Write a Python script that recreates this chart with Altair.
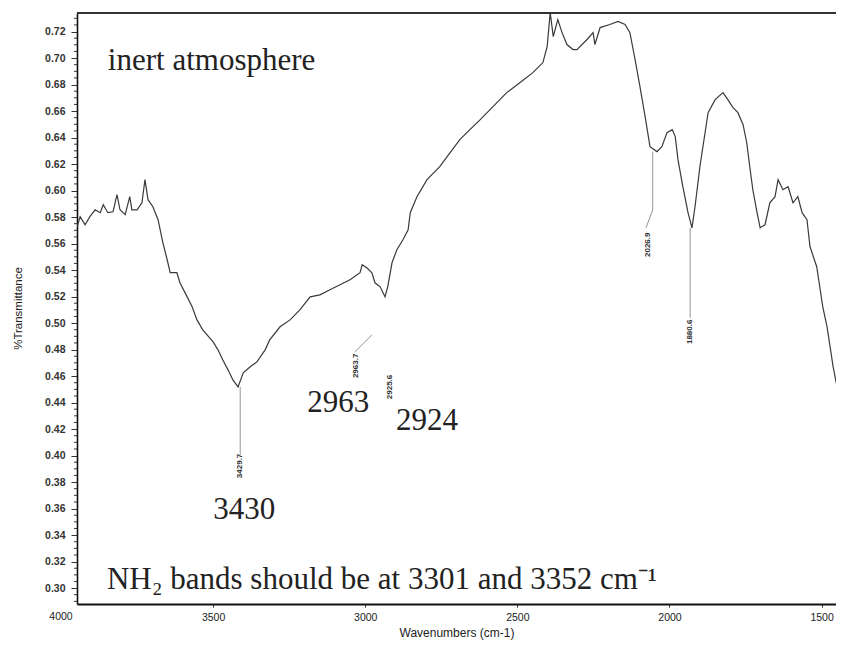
import altair as alt
import pandas as pd

# ---- spectrum ----
wavenumber = [3947, 3937, 3921, 3905, 3888, 3871, 3861, 3846, 3829, 3816, 3806, 3789, 3774, 3767,
              3750, 3734, 3724, 3714, 3698, 3681, 3665, 3651, 3641, 3619, 3609, 3592, 3569, 3553,
              3534, 3500, 3484, 3468, 3451, 3435, 3418, 3401, 3379, 3356, 3329, 3314, 3280, 3247,
              3215, 3181, 3149, 3116, 3083, 3050, 3017, 3010, 2995, 2978, 2968, 2951, 2935, 2926,
              2912, 2896, 2876, 2859, 2852, 2830, 2797, 2755, 2721, 2689, 2656, 2622, 2580, 2535,
              2491, 2449, 2416, 2402, 2392, 2382, 2367, 2353, 2337, 2317, 2304, 2271, 2251, 2245,
              2228, 2196, 2169, 2146, 2130, 2113, 2097, 2080, 2064, 2041, 2025, 2008, 1991, 1981,
              1972, 1956, 1939, 1926, 1916, 1900, 1873, 1850, 1824, 1808, 1791, 1775, 1758, 1746,
              1736, 1726, 1712, 1702, 1686, 1670, 1653, 1643, 1627, 1610, 1594, 1578, 1564, 1548,
              1538, 1516, 1506, 1496, 1482, 1472, 1462, 1449, 1430]
transmittance = [0.5727, 0.5803, 0.5742, 0.5803, 0.5855, 0.5833, 0.5893, 0.5833, 0.5840, 0.5969,
                 0.5855, 0.5818, 0.5954, 0.5855, 0.5855, 0.5908, 0.6082, 0.5931, 0.5878, 0.5780,
                 0.5606, 0.5478, 0.5380, 0.5380, 0.5304, 0.5228, 0.5123, 0.5024, 0.4949, 0.4858,
                 0.4798, 0.4722, 0.4647, 0.4571, 0.4518, 0.4624, 0.4669, 0.4707, 0.4798, 0.4873,
                 0.4972, 0.5024, 0.5100, 0.5198, 0.5213, 0.5251, 0.5289, 0.5327, 0.5380, 0.5440,
                 0.5417, 0.5380, 0.5304, 0.5274, 0.5198, 0.5274, 0.5455, 0.5553, 0.5629, 0.5704,
                 0.5833, 0.5954, 0.6082, 0.6180, 0.6286, 0.6384, 0.6460, 0.6535, 0.6633, 0.6739,
                 0.6815, 0.6890, 0.6966, 0.7087, 0.7344, 0.7162, 0.7291, 0.7192, 0.7102, 0.7064,
                 0.7064, 0.7140, 0.7192, 0.7102, 0.7230, 0.7253, 0.7276, 0.7253, 0.7192, 0.6988,
                 0.6785, 0.6558, 0.6331, 0.6294, 0.6331, 0.6437, 0.6460, 0.6407, 0.6233, 0.6029,
                 0.5833, 0.5719, 0.5878, 0.6180, 0.6588, 0.6686, 0.6739, 0.6686, 0.6626, 0.6588,
                 0.6497, 0.6361, 0.6180, 0.6006, 0.5833, 0.5719, 0.5742, 0.5908, 0.5954, 0.6082,
                 0.6006, 0.6029, 0.5908, 0.5954, 0.5833, 0.5780, 0.5576, 0.5425, 0.5274, 0.5123,
                 0.4972, 0.4820, 0.4669, 0.4518, 0.3969]

# ---- peak-pick labels (small, rotated) ----
peak_label_text = ["3429.7", "2963.7", "2925.6", "2026.9", "1880.6"]
peak_label_wn = [3411, 3030, 2919, 2070, 1932]
peak_label_t = [0.3922, 0.4677, 0.4518, 0.5591, 0.4934]

# leader lines from the peaks to their labels
leader_wn = [3411, 2055, 2055, 1932, 2978]
leader_wn2 = [3411, 2055, 2077, 1932, 3034]
leader_t = [0.4518, 0.6294, 0.5855, 0.5719, 0.4911]
leader_t2 = [0.4005, 0.5855, 0.5719, 0.5040, 0.4783]

# ---- large hand annotations ----
big_text = ["3430", "2963", "2924"]
big_wn = [3398, 3089, 2797]
big_t = [0.3522, 0.4330, 0.4193]

note_text = ["inert atmosphere", "NH\u2082 bands should be at 3301 and 3352 cm\u207b\u00b9"]
note_wn = [3846, 3849]
note_t = [0.6913, 0.2990]

x_ticks = [4000, 3500, 3000, 2500, 2000, 1500]
y_major = [round(0.30 + i * 0.02, 2) for i in range(22)]
y_minor = [round(0.29 + i * 0.005, 3) for i in range(89) if (i * 5) % 20 != 10]

spec = pd.DataFrame({"wn": wavenumber, "t": transmittance})
peaks = pd.DataFrame({"wn": peak_label_wn, "t": peak_label_t, "label": peak_label_text})
leaders = pd.DataFrame({"wn": leader_wn, "wn2": leader_wn2, "t": leader_t, "t2": leader_t2})
big = pd.DataFrame({"wn": big_wn, "t": big_t, "label": big_text})
notes = pd.DataFrame({"wn": note_wn, "t": note_t, "label": note_text})
minor = pd.DataFrame({"t": y_minor})
edge_label = pd.DataFrame({"wn": x_ticks[:1], "label": [str(v) for v in x_ticks[:1]]})

W, H = 759, 591
xscale = alt.Scale(domain=[3947.4, 1452.6], nice=False, zero=False)
yscale = alt.Scale(domain=[0.288, 0.734], nice=False, zero=False)

LABEL_FONT = "Liberation Sans"
x_axis = alt.Axis(
    values=x_ticks[1:], format="d", labelFlush=False, title="Wavenumbers (cm-1)", grid=False,
    labelFont=LABEL_FONT, labelFontSize=10.5, labelColor="#222",
    titleFont=LABEL_FONT, titleFontSize=12, titleFontWeight="normal", titleColor="#222",
    domainColor="#111", domainWidth=2, tickColor="#333", tickSize=3, labelPadding=5,
    titlePadding=5,
)
y_axis = alt.Axis(
    values=y_major, format=".2f", title="%Transmittance", grid=False,
    labelFont=LABEL_FONT, labelFontSize=10.5, labelFontWeight="bold", labelColor="#333",
    titleFont=LABEL_FONT, titleFontSize=11.5, titleFontWeight="normal", titleColor="#222",
    domainColor="#111", domainWidth=1.6, tickColor="#333", tickSize=6,
    labelPadding=6, titleAngle=270, titleAlign="center", titleBaseline="middle",
    titleX=-59, titleY=295,
)

X = lambda f: alt.X(f, type="quantitative", scale=xscale, axis=x_axis)
Y = lambda f: alt.Y(f, type="quantitative", scale=yscale, axis=y_axis)

line = alt.Chart(spec).mark_line(color="#3a3a3a", strokeWidth=1.2, clip=True).encode(
    x=X("wn"), y=Y("t"), order=alt.Order("wn:Q", sort="descending"),
)

minor_ticks = alt.Chart(minor).mark_rule(color="#333", strokeWidth=1).encode(
    y=Y("t"), x=alt.value(-3), x2=alt.value(0),
)

top_frame = alt.Chart(spec).mark_rule(color="#333", strokeWidth=1.6).encode(
    x=alt.value(0), x2=alt.value(W), y=alt.value(0),
)

# the 4000 tick label sits just left of the plot frame in the scan
first_label = alt.Chart(edge_label).mark_text(
    font=LABEL_FONT, fontSize=10.5, color="#222", align="center", baseline="top",
).encode(x=X("wn"), y=alt.value(H + 8), text="label:N")

leader_rules = alt.Chart(leaders).mark_rule(color="#888", strokeWidth=0.9).encode(
    x=X("wn"), x2="wn2:Q", y=Y("t"), y2="t2:Q",
)

peak_text = alt.Chart(peaks).mark_text(
    font=LABEL_FONT, fontSize=8, fontWeight="bold", angle=270, align="center",
    baseline="middle", color="#333",
).encode(x=X("wn"), y=Y("t"), text="label:N")

big_marks = alt.Chart(big).mark_text(
    font="Liberation Serif", fontSize=31, align="center", baseline="alphabetic", color="#222",
).encode(x=X("wn"), y=Y("t"), text="label:N")

note_marks = alt.Chart(notes).mark_text(
    font="Liberation Serif", fontSize=31, align="left", baseline="alphabetic", color="#222",
).encode(x=X("wn"), y=Y("t"), text="label:N")

chart = alt.layer(line, minor_ticks, top_frame, first_label, leader_rules, peak_text,
                  big_marks, note_marks).properties(
    width=W, height=H,
    autosize=alt.AutoSizeParams(type="none"),
    padding={"left": 69, "top": 5, "right": 0, "bottom": 36},
    background="white",
).configure_view(stroke=None)

chart.save("out.html", embed_options={"renderer": "svg", "actions": False})
